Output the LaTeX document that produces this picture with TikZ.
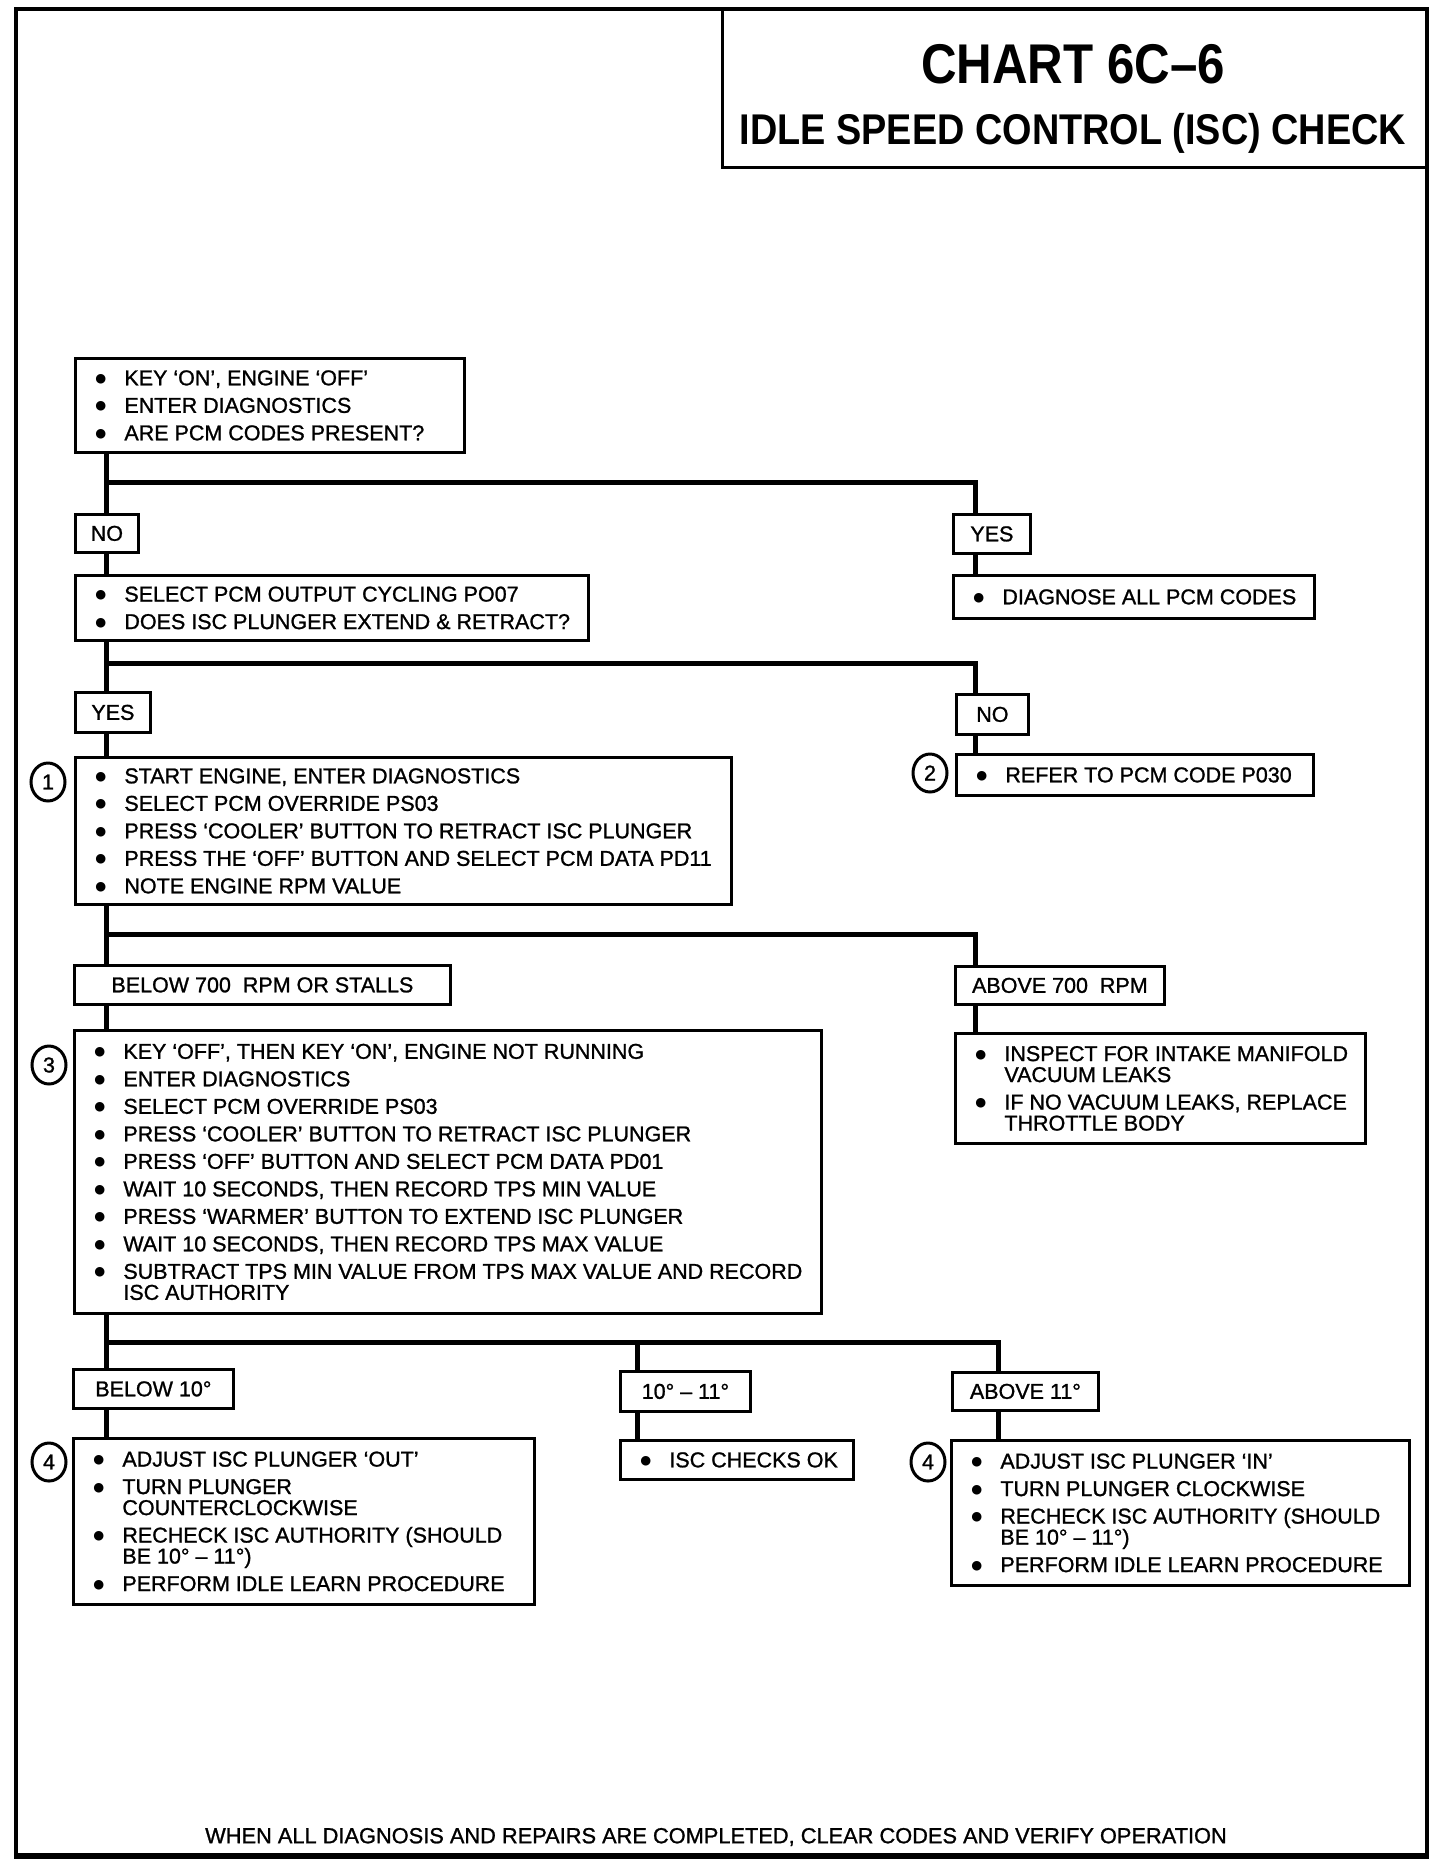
\documentclass[tikz,border=0pt]{standalone}
\usepackage{fontspec}
\setmainfont{Liberation Sans}
\newfontfamily\bodyface[FakeBold=1.1]{Liberation Sans}
\newfontfamily\bulface{DejaVu Sans}
\newfontfamily\titlefont[FakeStretch=0.88]{Liberation Sans}
\newcommand\bodyfont{\bodyface\fontsize{21.5pt}{21pt}\selectfont\lineskiplimit=-50pt\relax}
\newcommand\bul{\makebox[29pt][l]{\raisebox{3pt}{\bulface\fontsize{12.5pt}{12.5pt}\selectfont ●}}}
\newcommand\firstitm[1]{\noindent\hangindent=29pt\hangafter=1\bul#1}
\newcommand\itm[1]{\par\vspace{6.5pt}\noindent\hangindent=29pt\hangafter=1\bul#1}
\newcommand\blist[2]{\makebox[#1][l]{\parbox[c]{\dimexpr#1+40pt\relax}{\bodyfont\raggedright #2\par}}}
\usetikzlibrary{shapes.geometric}
\tikzset{
  box/.style={draw, line width=2.8pt, inner sep=0pt, anchor=north west},
  lbl/.style={box, font=\bodyfont, align=center},
  lst/.style={box, inner xsep=20pt, inner ysep=0pt},
  circ/.style={draw, ellipse, line width=3pt, minimum width=34pt, minimum height=38pt, inner sep=0pt, font=\bodyfont},
  conn/.style={line width=5pt},
}
\begin{document}
\begin{tikzpicture}[x=1pt,y=-1pt]
\useasboundingbox (0,0) rectangle (1440,1864);
% outer frame
\node[draw, line width=3.5pt, inner sep=0pt, anchor=north west, minimum width=1411pt, minimum height=1846pt] (frame) at (14,7) {};
\draw[line width=5pt] (frame.south west) -- (frame.south east);
% title block
\node[box, line width=3pt, minimum width=704pt, minimum height=159pt] (tb) at (721,7) {};
\node[anchor=base, inner sep=0pt, font=\titlefont\bfseries\fontsize{56pt}{60pt}\selectfont] (t1) at (1073,83) {CHART 6C–6};
\node[anchor=base, inner sep=0pt, font=\titlefont\bfseries\fontsize{43pt}{48pt}\selectfont] (t2) at (1073,144) {IDLE SPEED CONTROL (ISC) CHECK};

% boxes
\node[lst, minimum width=389pt, minimum height=94pt] (A) at (74,357) {\blist{349pt}{%
\firstitm{KEY ‘ON’, ENGINE ‘OFF’}
\itm{ENTER DIAGNOSTICS}
\itm{ARE PCM CODES PRESENT?}}};

\node[lbl, minimum width=63pt, minimum height=38pt] (no1) at (74,513) {NO};
\node[lbl, minimum width=77pt, minimum height=39pt] (yes1) at (952,513) {YES};

\node[lst, minimum width=513pt, minimum height=65pt] (B) at (74,574) {\blist{473pt}{%
\firstitm{SELECT PCM OUTPUT CYCLING PO07}
\itm{DOES ISC PLUNGER EXTEND \& RETRACT?}}};

\node[lst, minimum width=361pt, minimum height=43pt] (diag) at (952,574) {\blist{321pt}{%
\firstitm{DIAGNOSE ALL PCM CODES}}};

\node[lbl, minimum width=75pt, minimum height=40pt] (yes2) at (74,691) {YES};
\node[lbl, minimum width=72pt, minimum height=40pt] (no2) at (955,693) {NO};

\node[lst, minimum width=656pt, minimum height=147pt] (C) at (74,756) {\blist{616pt}{%
\firstitm{START ENGINE, ENTER DIAGNOSTICS}
\itm{SELECT PCM OVERRIDE PS03}
\itm{PRESS ‘COOLER’ BUTTON TO RETRACT ISC PLUNGER}
\itm{PRESS THE ‘OFF’ BUTTON AND SELECT PCM DATA PD11}
\itm{NOTE ENGINE RPM VALUE}}};

\node[lst, minimum width=357pt, minimum height=41pt] (ref) at (955,753) {\blist{317pt}{%
\firstitm{REFER TO PCM CODE P030}}};

\node[lbl, minimum width=376pt, minimum height=39pt] (b700) at (73,964) {BELOW 700 \ RPM OR STALLS};
\node[lbl, minimum width=209pt, minimum height=38pt] (a700) at (954,965) {ABOVE 700 \ RPM};

\node[lst, minimum width=747pt, minimum height=283pt] (D) at (73,1029) {\blist{707pt}{%
\firstitm{KEY ‘OFF’, THEN KEY ‘ON’, ENGINE NOT RUNNING}
\itm{ENTER DIAGNOSTICS}
\itm{SELECT PCM OVERRIDE PS03}
\itm{PRESS ‘COOLER’ BUTTON TO RETRACT ISC PLUNGER}
\itm{PRESS ‘OFF’ BUTTON AND SELECT PCM DATA PD01}
\itm{WAIT 10 SECONDS, THEN RECORD TPS MIN VALUE}
\itm{PRESS ‘WARMER’ BUTTON TO EXTEND ISC PLUNGER}
\itm{WAIT 10 SECONDS, THEN RECORD TPS MAX VALUE}
\itm{SUBTRACT TPS MIN VALUE FROM TPS MAX VALUE AND RECORD\newline ISC AUTHORITY}}};

\node[lst, minimum width=410pt, minimum height=110pt] (E) at (954,1032) {\blist{370pt}{%
\firstitm{INSPECT FOR INTAKE MANIFOLD\newline VACUUM LEAKS}
\itm{IF NO VACUUM LEAKS, REPLACE\newline THROTTLE BODY}}};

\node[lbl, minimum width=160pt, minimum height=39pt] (b10) at (72,1368) {BELOW 10°};
\node[lbl, minimum width=130pt, minimum height=40pt] (r1011) at (619,1370) {10° – 11°};
\node[lbl, minimum width=146pt, minimum height=38pt] (a11) at (951,1371) {ABOVE 11°};

\node[lst, minimum width=461pt, minimum height=166pt] (F) at (72,1437) {\blist{421pt}{%
\firstitm{ADJUST ISC PLUNGER ‘OUT’}
\itm{TURN PLUNGER\newline COUNTERCLOCKWISE}
\itm{RECHECK ISC AUTHORITY (SHOULD\newline BE 10° – 11°)}
\itm{PERFORM IDLE LEARN PROCEDURE}}};

\node[lst, minimum width=233pt, minimum height=39pt] (ok) at (619,1439) {\blist{193pt}{%
\firstitm{ISC CHECKS OK}}};

\node[lst, minimum width=458pt, minimum height=145pt] (G) at (950,1439) {\blist{418pt}{%
\firstitm{ADJUST ISC PLUNGER ‘IN’}
\itm{TURN PLUNGER CLOCKWISE}
\itm{RECHECK ISC AUTHORITY (SHOULD\newline BE 10° – 11°)}
\itm{PERFORM IDLE LEARN PROCEDURE}}};

% step numbers
\node[circ] (c1) at (48,782) {1};
\node[circ] (c2) at (930,773) {2};
\node[circ] (c3) at (49,1065) {3};
\node[circ] (c4a) at (49,1462) {4};
\node[circ] (c4b) at (928,1462) {4};

% footer
\node[font=\bodyface\fontsize{21.8pt}{24pt}\selectfont, inner sep=0pt] (foot) at (716,1837) {WHEN ALL DIAGNOSIS AND REPAIRS ARE COMPLETED, CLEAR CODES AND VERIFY OPERATION};

% connectors
\coordinate (T) at (106,0);
\coordinate (j1) at (106,482);  \coordinate (k1) at (975,482);
\coordinate (j2) at (106,663);  \coordinate (k2) at (975,663);
\coordinate (j3) at (106,934);  \coordinate (k3) at (975,934);
\coordinate (j4) at (106,1342); \coordinate (m4) at (637,1342); \coordinate (k4) at (998,1342);

\draw[conn] (A.south -| T) -- (no1.north -| T);
\draw[conn] (no1.south -| T) -- (B.north -| T);
\draw[conn] (B.south -| T) -- (yes2.north -| T);
\draw[conn] (yes2.south -| T) -- (C.north -| T);
\draw[conn] (C.south -| T) -- (b700.north -| T);
\draw[conn] (b700.south -| T) -- (D.north -| T);
\draw[conn] (D.south -| T) -- (b10.north -| T);
\draw[conn] (b10.south -| T) -- (F.north -| T);

\draw[conn] (j1) -- (k1) -- (yes1.north -| k1);
\draw[conn] (yes1.south -| k1) -- (diag.north -| k1);
\draw[conn] (j2) -- (k2) -- (no2.north -| k2);
\draw[conn] (no2.south -| k2) -- (ref.north -| k2);
\draw[conn] (j3) -- (k3) -- (a700.north -| k3);
\draw[conn] (a700.south -| k3) -- (E.north -| k3);
\draw[conn] (j4) -- (k4) -- (a11.north -| k4);
\draw[conn] (m4) -- (r1011.north -| m4);
\draw[conn] (r1011.south -| m4) -- (ok.north -| m4);
\draw[conn] (a11.south -| k4) -- (G.north -| k4);
\end{tikzpicture}
\end{document}
